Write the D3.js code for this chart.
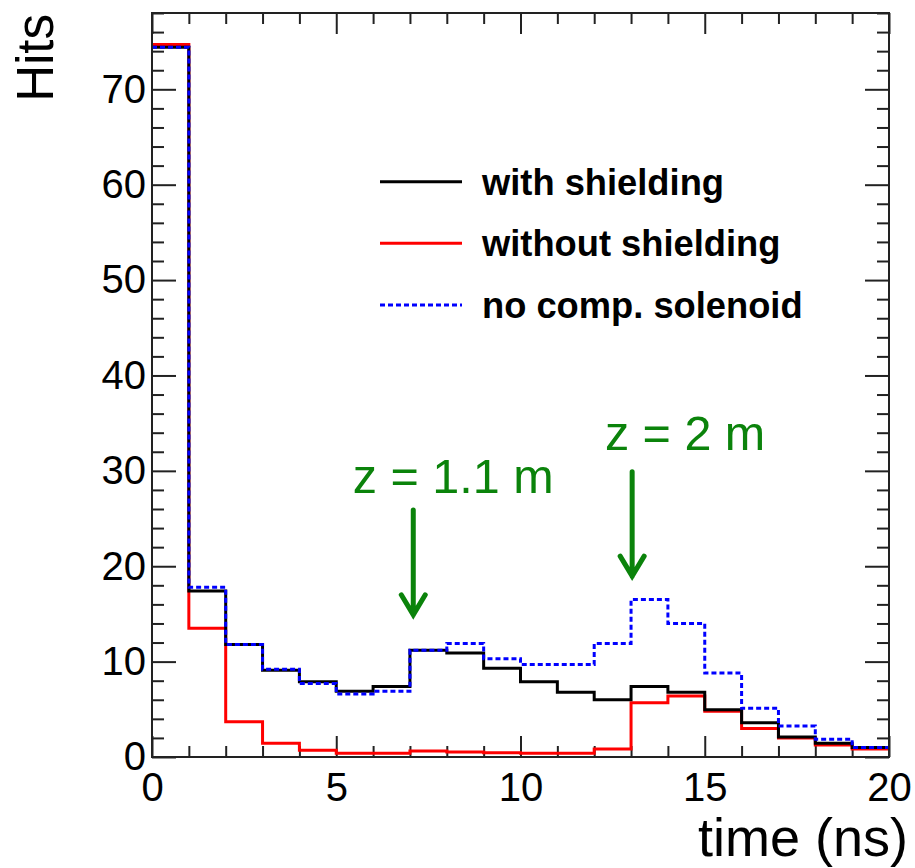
<!DOCTYPE html>
<html>
<head>
<meta charset="utf-8">
<script src="https://cdn.jsdelivr.net/npm/d3@7"></script>
<style>
  html, body { margin: 0; padding: 0; background: #fff; }
  svg { display: block; }
</style>
</head>
<body>
<svg id="chart" width="915" height="868"></svg>
<script>
// ---- data ----
const binEdges = d3.range(0, 21);           // 0..20 ns, 1 ns bins
const withShielding    = [74.4, 17.4, 11.8, 9.1, 7.9, 6.9, 7.4, 11.2, 10.9, 9.3, 7.9, 6.8, 6.0, 7.4, 6.8, 4.95, 3.6, 2.1, 1.45, 1.0];
const withoutShielding = [74.7, 13.5, 3.7, 1.45, 0.7, 0.4, 0.4, 0.63, 0.52, 0.45, 0.4, 0.4, 0.85, 5.7, 6.4, 4.8, 3.0, 2.0, 1.25, 0.85];
const noCompSolenoid   = [74.4, 17.8, 11.8, 9.2, 7.7, 6.6, 6.9, 11.2, 11.9, 10.3, 9.7, 9.7, 11.9, 16.5, 14.0, 8.8, 5.1, 3.25, 1.85, 1.0];
const seriesNames = ["with shielding", "without shielding", "no comp. solenoid"];
const xTickValues = [0, 5, 10, 15, 20];
const yTickValues = [0, 10, 20, 30, 40, 50, 60, 70];
const annotations = [
  { label: "z = 1.1 m", tx: 5.45, ty: 27.7, ax: 7.09, y0: 25.9, y1: 14.7 },
  { label: "z = 2 m",   tx: 12.29, ty: 32.2, ax: 13.03, y0: 29.9, y1: 18.75 }
];

// ---- layout ----
const svg = d3.select("#chart");
const L = 152, R = 889, T = 13, B = 757;
const x = d3.scaleLinear().domain([0, 20]).range([L, R]);
const y = d3.scaleLinear().domain([0, 78]).range([B, T]);
const font = "'Liberation Sans', Arial, Helvetica, sans-serif";
const green = "#0b830b";
const frameColor = "#222";

// ---- axes ticks (inward, ROOT style) ----
function styleAxis(g) {
  g.select(".domain").remove();
  g.selectAll(".tick line").attr("stroke", frameColor).attr("stroke-width", 2);
  g.selectAll("text").attr("font-family", font).attr("font-size", 40).attr("fill", "#000");
}
const xMinor = d3.range(0, 21);
const yMinor = d3.range(0, 79, 2);

// bottom
svg.append("g").attr("transform", `translate(0,${B})`)
  .call(d3.axisBottom(x).tickValues(xMinor.filter(v => v % 5)).tickSize(-11).tickFormat(""))
  .call(styleAxis);
svg.append("g").attr("transform", `translate(0,${B})`)
  .call(d3.axisBottom(x).tickValues(xTickValues).tickSize(-21).tickPadding(16).tickFormat(d3.format("d")))
  .call(styleAxis);
// top
svg.append("g").attr("transform", `translate(0,${T})`)
  .call(d3.axisTop(x).tickValues(xMinor.filter(v => v % 5)).tickSize(-11).tickFormat(""))
  .call(styleAxis);
svg.append("g").attr("transform", `translate(0,${T})`)
  .call(d3.axisTop(x).tickValues(xTickValues).tickSize(-21).tickFormat(""))
  .call(styleAxis);
// left
svg.append("g").attr("transform", `translate(${L},0)`)
  .call(d3.axisLeft(y).tickValues(yMinor.filter(v => v % 10)).tickSize(-12).tickFormat(""))
  .call(styleAxis);
svg.append("g").attr("transform", `translate(${L},0)`)
  .call(d3.axisLeft(y).tickValues(yTickValues).tickSize(-24).tickPadding(6).tickFormat(d3.format("d")))
  .call(styleAxis);
// right
svg.append("g").attr("transform", `translate(${R},0)`)
  .call(d3.axisRight(y).tickValues(yMinor.filter(v => v % 10)).tickSize(-12).tickFormat(""))
  .call(styleAxis);
svg.append("g").attr("transform", `translate(${R},0)`)
  .call(d3.axisRight(y).tickValues(yTickValues).tickSize(-24).tickFormat(""))
  .call(styleAxis);

// ---- histograms ----
const step = d3.line().x(d => x(d[0])).y(d => y(d[1])).curve(d3.curveStepAfter);
function pts(vals) {
  const p = vals.map((v, i) => [binEdges[i], v]);
  p.push([binEdges[vals.length], vals[vals.length - 1]]);
  return p;
}
const series = [
  { vals: withoutShielding, color: "#ff0000", dash: null, name: seriesNames[1] },
  { vals: withShielding,    color: "#000000", dash: null, name: seriesNames[0] },
  { vals: noCompSolenoid,   color: "#0000ff", dash: "5,3", name: seriesNames[2] }
];
series.forEach(s => {
  svg.append("path").attr("d", step(pts(s.vals)))
    .attr("fill", "none").attr("stroke", s.color).attr("stroke-width", 3)
    .attr("stroke-dasharray", s.dash);
});

// ---- frame ----
svg.append("rect").attr("x", L).attr("y", T).attr("width", R - L).attr("height", B - T)
  .attr("fill", "none").attr("stroke", frameColor).attr("stroke-width", 2);

// ---- axis titles ----
svg.append("text").attr("transform", `translate(53,${T + 1}) rotate(-90)`)
  .attr("text-anchor", "end").attr("font-family", font).attr("font-size", 51).text("Hits");
svg.append("text").attr("x", 908).attr("y", 856)
  .attr("text-anchor", "end").attr("font-family", font).attr("font-size", 54).text("time (ns)");

// ---- legend ----
const legendOrder = [
  { name: seriesNames[0], color: "#000000", dash: null },
  { name: seriesNames[1], color: "#ff0000", dash: null },
  { name: seriesNames[2], color: "#0000ff", dash: "5,3" }
];
const legY = d3.scalePoint().domain(legendOrder.map(d => d.name)).range([181.7, 305]);
const leg = svg.append("g");
legendOrder.forEach(d => {
  leg.append("line").attr("x1", 380).attr("x2", 462).attr("y1", legY(d.name)).attr("y2", legY(d.name))
    .attr("stroke", d.color).attr("stroke-width", 3).attr("stroke-dasharray", d.dash);
  leg.append("text").attr("x", 482).attr("y", legY(d.name) + 13)
    .attr("font-family", font).attr("font-weight", "bold").attr("font-size", 36.3).text(d.name);
});

// ---- annotations ----
annotations.forEach(a => {
  svg.append("text").attr("x", x(a.tx)).attr("y", y(a.ty))
    .attr("font-family", font).attr("font-size", 48.5).attr("fill", green).text(a.label);
  const xp = x(a.ax), yt = y(a.y1), ys = y(a.y0);
  svg.append("path")
    .attr("d", `M${xp},${ys} L${xp},${yt - 2} M${xp - 12},${yt - 22} L${xp},${yt - 2} L${xp + 12},${yt - 22}`)
    .attr("fill", "none").attr("stroke", green).attr("stroke-width", 5)
    .attr("stroke-linecap", "round").attr("stroke-linejoin", "miter");
});
</script>
</body>
</html>
